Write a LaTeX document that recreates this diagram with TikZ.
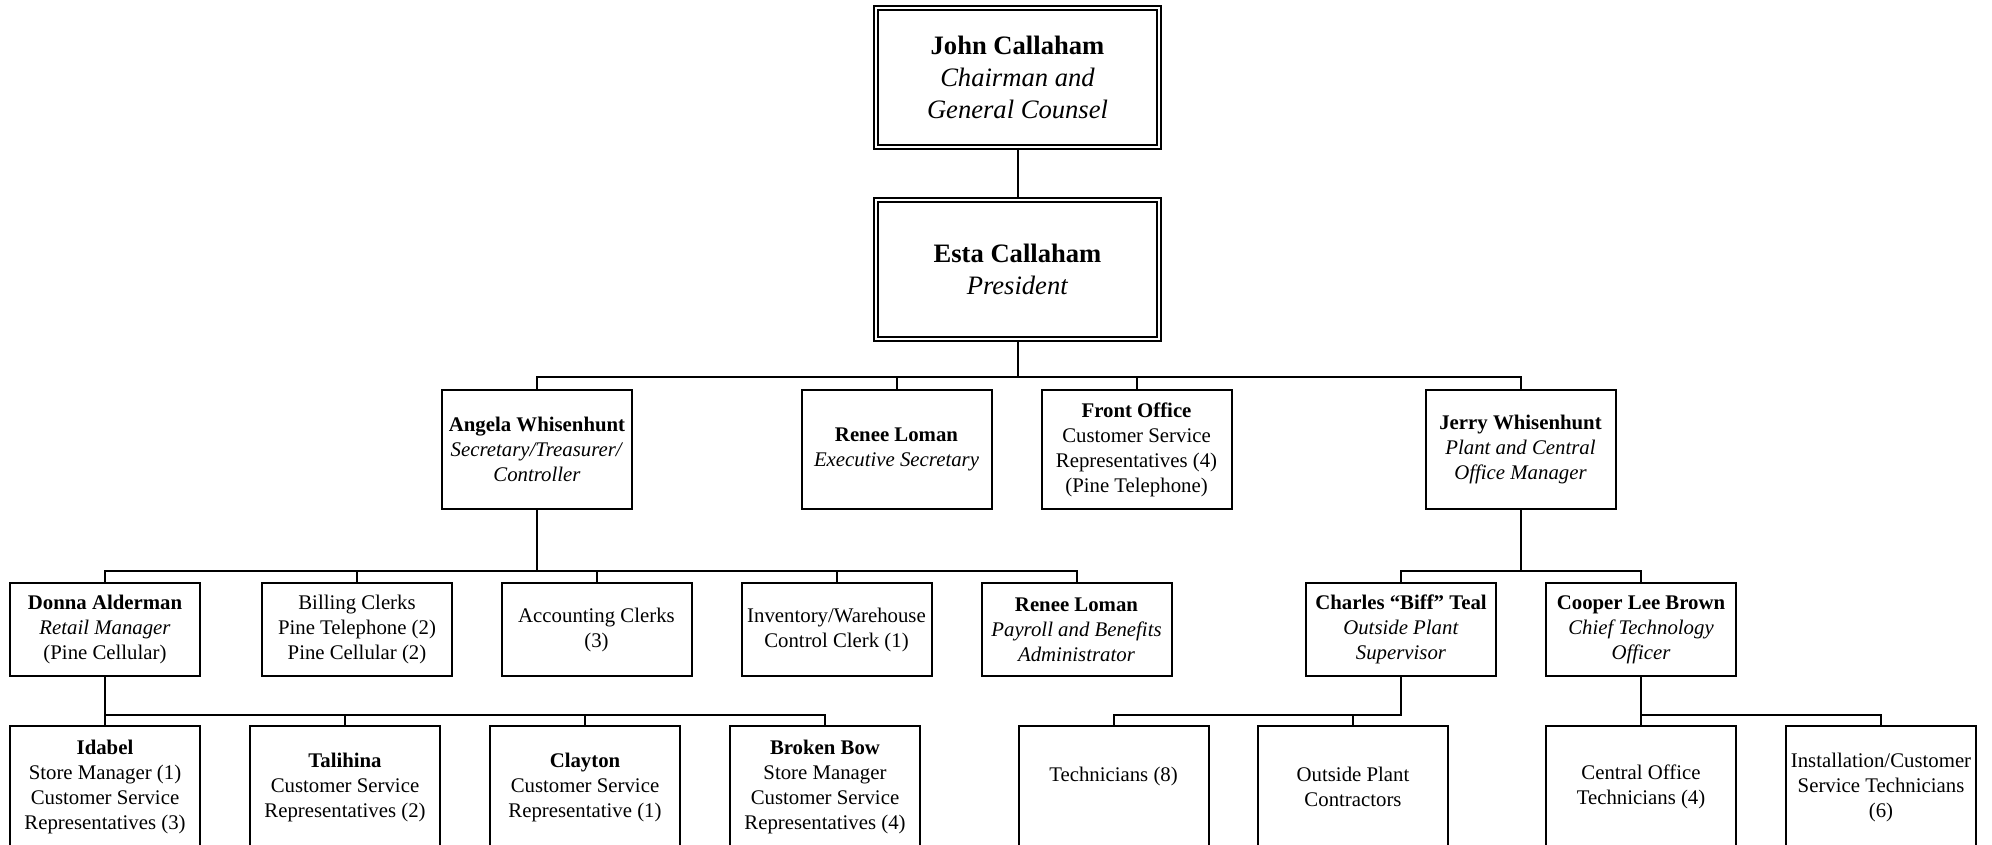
\documentclass[tikz,border=0pt]{standalone}
\usepackage{fontspec}
\setmainfont{Liberation Serif}
\usepackage{tikz}

\tikzset{
  chief/.style={draw, double, line width=1pt, double distance=1pt,
    minimum width=141.5pt, minimum height=69.5pt, inner sep=1pt, align=center,
    font=\fontsize{13.3}{16}\selectfont},
  staff/.style={draw, line width=1pt, minimum width=95pt, inner sep=1pt, align=center,
    font=\fontsize{10.4}{12.5}\selectfont},
  lvltwo/.style={staff, minimum height=59.5pt},
  lvlthree/.style={staff, minimum height=46.8pt},
  lvlfour/.style={staff, minimum height=61pt},
  link/.style={line width=1pt}
}

\begin{document}
\begin{tikzpicture}[x=0.5pt, y=-0.5pt]
  \useasboundingbox (0,0) rectangle (1992,845);

  \node[chief] (john) at (1017.5,77.5) {\textbf{John Callaham}\\ \textit{Chairman and}\\ \textit{General Counsel}};
  \node[chief] (esta) at (1017.5,269.5) {\textbf{Esta Callaham}\\ \textit{President}};

  \node[lvltwo] (angela) at (537,449.5)  {\textbf{Angela Whisenhunt}\\ \textit{Secretary/Treasurer/}\\ \textit{Controller}};
  \node[lvltwo] (renee)  at (896.5,449.5) {\textbf{Renee Loman}\\ \textit{Executive Secretary}};
  \node[lvltwo] (front)  at (1136.5,449.5) {\textbf{Front Office}\\ Customer Service\\ Representatives (4)\\ (Pine Telephone)};
  \node[lvltwo] (jerry)  at (1520.5,449.5) {\textbf{Jerry Whisenhunt}\\ \textit{Plant and Central}\\ \textit{Office Manager}};

  \node[lvlthree] (donna)     at (105,629.5)    {\textbf{Donna Alderman}\\ \textit{Retail Manager}\\ (Pine Cellular)};
  \node[lvlthree] (billing)   at (357,629.5)    {Billing Clerks\\ Pine Telephone (2)\\ Pine Cellular (2)};
  \node[lvlthree] (accounting) at (596.5,629.5) {Accounting Clerks\\ (3)};
  \node[lvlthree] (inventory) at (836.5,629.5)  {Inventory/Warehouse\\ Control Clerk (1)};
  \node[lvlthree] (payroll)   at (1076.5,629.5) {\textbf{Renee Loman}\\ \textit{Payroll and Benefits}\\ \textit{Administrator}};
  \node[lvlthree] (charles)   at (1401,629.5)   {\textbf{Charles “Biff” Teal}\\ \textit{Outside Plant}\\ \textit{Supervisor}};
  \node[lvlthree] (cooper)    at (1641,629.5)   {\textbf{Cooper Lee Brown}\\ \textit{Chief Technology}\\ \textit{Officer}};

  \node[lvlfour] (idabel)      at (105,787)  {\textbf{Idabel}\\ Store Manager (1)\\ Customer Service\\ Representatives (3)};
  \node[lvlfour] (talihina)    at (345,787)  {\textbf{Talihina}\\ Customer Service\\ Representatives (2)};
  \node[lvlfour] (clayton)     at (585,787)  {\textbf{Clayton}\\ Customer Service\\ Representative (1)};
  \node[lvlfour] (brokenbow)   at (825,787)  {\textbf{Broken Bow}\\ Store Manager\\ Customer Service\\ Representatives (4)};
  \node[lvlfour] (techs)       at (1113.5,787) {Technicians (8)\\ \mbox{}};
  \node[lvlfour] (contractors) at (1353,787) {Outside Plant\\ Contractors};
  \node[lvlfour] (centraloff)  at (1641,787) {Central Office\\ Technicians (4)};
  \node[lvlfour] (install)     at (1881,787) {Installation/Customer\\ Service Technicians\\ (6)};

  \draw[link] (john) -- (esta);
  \foreach \c in {angela,renee,front,jerry}
    \draw[link] (esta.south) -- ++(0,37) -| (\c.north);
  \foreach \c in {donna,billing,accounting,inventory,payroll}
    \draw[link] (angela.south) -- ++(0,61) -| (\c.north);
  \foreach \c in {charles,cooper}
    \draw[link] (jerry.south) -- ++(0,61) -| (\c.north);
  \foreach \c in {idabel,talihina,clayton,brokenbow}
    \draw[link] (donna.south) -- ++(0,37.5) -| (\c.north);
  \foreach \c in {techs,contractors}
    \draw[link] (charles.south) -- ++(0,37.5) -| (\c.north);
  \foreach \c in {centraloff,install}
    \draw[link] (cooper.south) -- ++(0,37.5) -| (\c.north);
\end{tikzpicture}
\end{document}
